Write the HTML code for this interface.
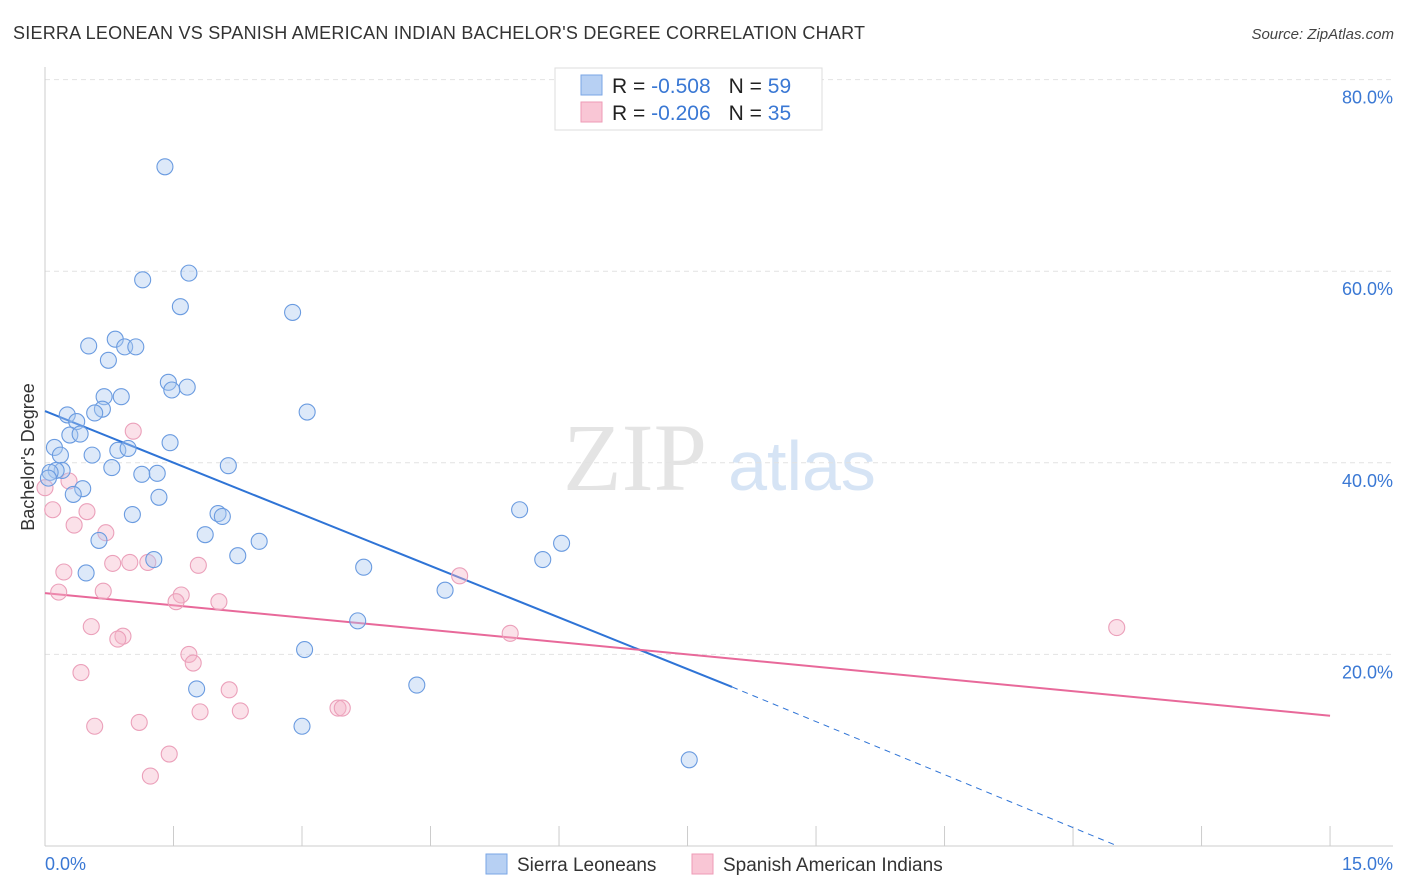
<!DOCTYPE html>
<html><head><meta charset="utf-8"><style>
body{margin:0;background:#fff;font-family:"Liberation Sans",sans-serif}
svg{display:block}
</style></head><body>
<svg id="chart" width="1406" height="892" xmlns="http://www.w3.org/2000/svg">
<text x="13" y="39" font-size="18" fill="#333" textLength="852">SIERRA LEONEAN VS SPANISH AMERICAN INDIAN BACHELOR'S DEGREE CORRELATION CHART</text>
<text x="1394" y="39" font-size="15" fill="#444" font-style="italic" text-anchor="end">Source: ZipAtlas.com</text>
<g>
<text x="635" y="490" font-size="96" fill="#e4e4e4" font-family="Liberation Serif,serif" text-anchor="middle">ZIP</text>
<text x="802" y="490" font-size="70" fill="#d6e4f5" text-anchor="middle">atlas</text>
</g>
<g id="grid"></g>
<g id="axes"></g>
<g id="trends"></g>
<g id="points"></g>
<text transform="translate(34,457) rotate(-90)" font-size="18" fill="#333" text-anchor="middle">Bachelor's Degree</text>
<g>
<rect x="555" y="68" width="267" height="62" fill="#fff" stroke="#ddd"/>
<rect x="581" y="75" width="21" height="20" fill="#b7d0f3" stroke="#7aa6e6"/>
<rect x="581" y="102" width="21" height="20" fill="#f9c6d5" stroke="#ee9bb6"/>
<text x="612" y="93" font-size="21" fill="#222">R = <tspan fill="#3a78d4">-0.508</tspan><tspan dx="18">N = </tspan><tspan fill="#3a78d4">59</tspan></text>
<text x="612" y="120" font-size="21" fill="#222">R = <tspan fill="#3a78d4">-0.206</tspan><tspan dx="18">N = </tspan><tspan fill="#3a78d4">35</tspan></text>
</g>
<g>
<rect x="486" y="854" width="21" height="20" fill="#b7d0f3" stroke="#7aa6e6"/>
<text x="517" y="871" font-size="19" fill="#333">Sierra Leoneans</text>
<rect x="692" y="854" width="21" height="20" fill="#f9c6d5" stroke="#ee9bb6"/>
<text x="723" y="871" font-size="19" fill="#333">Spanish American Indians</text>
</g>
</svg>
<script>
const blueX=[1.40,1.68,1.14,1.58,2.89,0.51,0.82,0.93,1.06,0.74,1.44,1.66,1.48,0.69,0.89,0.67,0.58,3.06,0.26,0.37,0.29,0.41,0.11,1.46,0.85,0.97,0.18,0.55,2.14,0.78,0.20,0.13,0.06,0.04,1.13,1.31,0.44,0.33,1.33,1.02,2.02,2.07,5.54,1.87,0.63,2.50,6.03,2.25,5.81,1.27,3.72,0.48,4.67,3.65,3.03,4.34,1.77,3.00,7.52];
const blueY=[70.9,59.8,59.1,56.3,55.7,52.2,52.9,52.1,52.1,50.7,48.4,47.9,47.6,46.9,46.9,45.6,45.2,45.3,45.0,44.3,42.9,43.0,41.6,42.1,41.3,41.5,40.8,40.8,39.7,39.5,39.2,39.2,39.0,38.4,38.8,38.9,37.3,36.7,36.4,34.6,34.7,34.4,35.1,32.5,31.9,31.8,31.6,30.3,29.9,29.9,29.1,28.5,26.7,23.5,20.5,16.8,16.4,12.5,9.0];
const pinkX=[1.03,0.28,0.00,0.09,0.49,0.34,0.71,0.79,0.99,1.20,1.79,0.22,4.84,1.59,0.16,0.68,1.53,2.03,0.54,5.43,12.51,0.91,0.85,1.68,1.73,0.42,2.15,1.81,2.28,3.42,3.47,0.58,1.10,1.45,1.23];
const pinkY=[43.3,38.1,37.4,35.1,34.9,33.5,32.7,29.5,29.6,29.6,29.3,28.6,28.2,26.2,26.5,26.6,25.5,25.5,22.9,22.2,22.8,21.9,21.6,20.0,19.1,18.1,16.3,14.0,14.1,14.4,14.4,12.5,12.9,9.6,7.3];
const blueTrend=[[0,45.4],[8.02,16.6],[12.52,0]];
const pinkTrend=[[0,26.4],[15,13.6]];
const yTicks=[20,40,60,80];
const xTickLabels=["0.0%","15.0%"];
const NS="http://www.w3.org/2000/svg";
const sx=v=>45+v*85.67, sy=v=>846-v*9.58;
function mk(parent,tag,attrs){const e=document.createElementNS(NS,tag);for(const k in attrs)e.setAttribute(k,attrs[k]);document.getElementById(parent).appendChild(e);return e;}
yTicks.forEach(t=>{
  const l=mk('grid','line',{x1:45,x2:1393,y1:sy(t),y2:sy(t),stroke:'#e2e2e2','stroke-dasharray':'5,4'});
  
  
  const tx=mk('grid','text',{x:1393,y:sy(t)+24,'font-size':18,fill:'#3a78d4','text-anchor':'end'});
  tx.textContent=t.toFixed(1)+'%';
  
  
});
mk('axes','line',{x1:45,x2:45,y1:67,y2:846,stroke:'#ccc'});
mk('axes','line',{x1:45,x2:1393,y1:846,y2:846,stroke:'#ccc'});
for(let i=0;i<=10;i++){const x=sx(i*1.5);const t=mk('axes','line',{x1:x,x2:x,y1:846,y2:826,stroke:'#ccc'});
  
  }
const xl0=mk('axes','text',{x:45,y:870,'font-size':18,fill:'#3a78d4'});xl0.textContent=xTickLabels[0];


const xl1=mk('axes','text',{x:1393,y:870,'font-size':18,fill:'#3a78d4','text-anchor':'end'});xl1.textContent=xTickLabels[1];


function dot(x,y,fill,stroke,name){const c=mk('points','circle',{cx:sx(x),cy:sy(y),r:8,fill:fill,'fill-opacity':0.4,stroke:stroke,'stroke-width':1.1});
  
  }
pinkX.forEach((x,i)=>dot(x,pinkY[i],'#f5b3c8','#eba0ba','pink-point'));
blueX.forEach((x,i)=>dot(x,blueY[i],'#a9c8ef','#6a9be0','blue-point'));
const b1=mk('trends','line',{x1:sx(blueTrend[0][0]),y1:sy(blueTrend[0][1]),x2:sx(blueTrend[1][0]),y2:sy(blueTrend[1][1]),stroke:'#2f74d6','stroke-width':2});


const b2=mk('trends','line',{x1:sx(blueTrend[1][0]),y1:sy(blueTrend[1][1]),x2:sx(blueTrend[2][0]),y2:sy(blueTrend[2][1]),stroke:'#2f74d6','stroke-width':1,'stroke-dasharray':'6,5'});


const p1=mk('trends','line',{x1:sx(pinkTrend[0][0]),y1:sy(pinkTrend[0][1]),x2:sx(pinkTrend[1][0]),y2:sy(pinkTrend[1][1]),stroke:'#e8699a','stroke-width':2});


</script>
</body></html>
